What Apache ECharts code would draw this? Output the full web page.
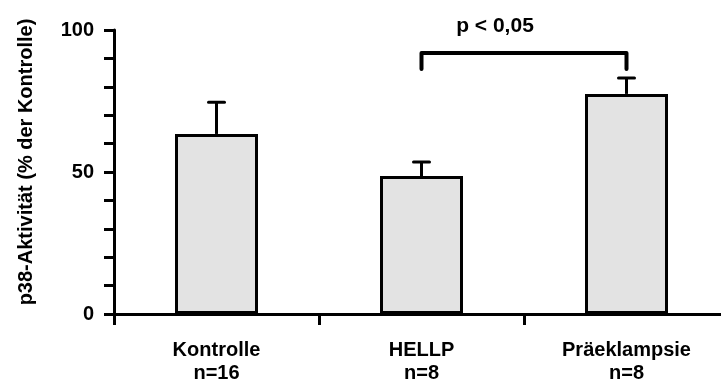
<!DOCTYPE html>
<html>
<head>
<meta charset="utf-8">
<script src="https://cdn.jsdelivr.net/npm/echarts@6/dist/echarts.min.js"></script>
<style>html,body{margin:0;padding:0;background:#fff;overflow:hidden;}#c{width:721px;height:380px;}</style>
</head>
<body>
<div id="c"></div>
<script>
const categories = ['Kontrolle\nn=16', 'HELLP\nn=8', 'Präeklampsie\nn=8'];
const means = [63.4, 48.6, 77.5];
const errTops = [74.6, 53.5, 83.1];
const yTicks = [0, 50, 100];
const bracketFrom = 1, bracketTo = 2;
const bracketLow = 86.3, bracketHigh = 91.9;
const sigText = 'p < 0,05';
const yTitle = 'p38-Aktivität (% der Kontrolle)';

const FONT = '"Liberation Sans", Arial, sans-serif';
const chart = echarts.init(document.getElementById('c'), null, {renderer: 'canvas'});

const errData = means.map((m, i) => [i, m, errTops[i]]);
const bracketData = [[bracketFrom, bracketLow], [bracketFrom, bracketHigh], [bracketTo, bracketHigh], [bracketTo, bracketLow]];

chart.setOption({
  animation: false,
  backgroundColor: '#fff',
  grid: {left: 114, top: 30, bottom: 66, width: 615, containLabel: false, outerBoundsMode: 'none'},
  xAxis: {
    type: 'category',
    data: categories,
    boundaryGap: true,
    axisLine: {lineStyle: {color: '#000', width: 3}},
    axisTick: {show: true, length: 11, lineStyle: {color: '#000', width: 3}, alignWithLabel: false},
    axisLabel: {color: '#000', fontFamily: FONT, fontWeight: 'bold', fontSize: 20, lineHeight: 23, margin: 25, interval: 0}
  },
  yAxis: {
    type: 'value', min: 0, max: 100, interval: 10,
    splitLine: {show: false},
    axisLine: {show: true, lineStyle: {color: '#000', width: 3}},
    axisTick: {show: true, length: 10, lineStyle: {color: '#000', width: 3}},
    axisLabel: {color: '#000', fontFamily: FONT, fontWeight: 'bold', fontSize: 20, margin: 20,
      formatter: v => yTicks.indexOf(v) >= 0 ? String(v) : ''}
  },
  graphic: [
    {type: 'text', x: 26, y: 162, rotation: Math.PI / 2,
      style: {text: yTitle, fill: '#000', font: 'bold 20px ' + FONT, textAlign: 'center', textVerticalAlign: 'middle'}},
    {type: 'text', x: 495, y: 26,
      style: {text: sigText, fill: '#000', font: 'bold 21px ' + FONT, textAlign: 'center', textVerticalAlign: 'middle'}}
  ],
  series: [
    {
      type: 'bar', data: means, barWidth: 83,
      itemStyle: {color: '#e3e3e3', borderColor: '#000', borderWidth: 3},
      z: 2
    },
    {
      type: 'custom', data: errData, z: 3,
      renderItem: (params, api) => {
        const base = api.coord([api.value(0), api.value(1)]);
        const top = api.coord([api.value(0), api.value(2)]);
        const st = {stroke: '#000', lineWidth: 3};
        return {type: 'group', children: [
          {type: 'line', shape: {x1: base[0], y1: base[1], x2: top[0], y2: top[1]}, style: st},
          {type: 'line', shape: {x1: top[0] - 8, y1: top[1], x2: top[0] + 8, y2: top[1]}, style: Object.assign({lineCap: 'round'}, st)}
        ]};
      }
    },
    {
      type: 'line', data: bracketData, symbol: 'none',
      lineStyle: {color: '#000', width: 4, cap: 'round', join: 'round'},
      silent: true, z: 4
    }
  ]
});
</script>
</body>
</html>
